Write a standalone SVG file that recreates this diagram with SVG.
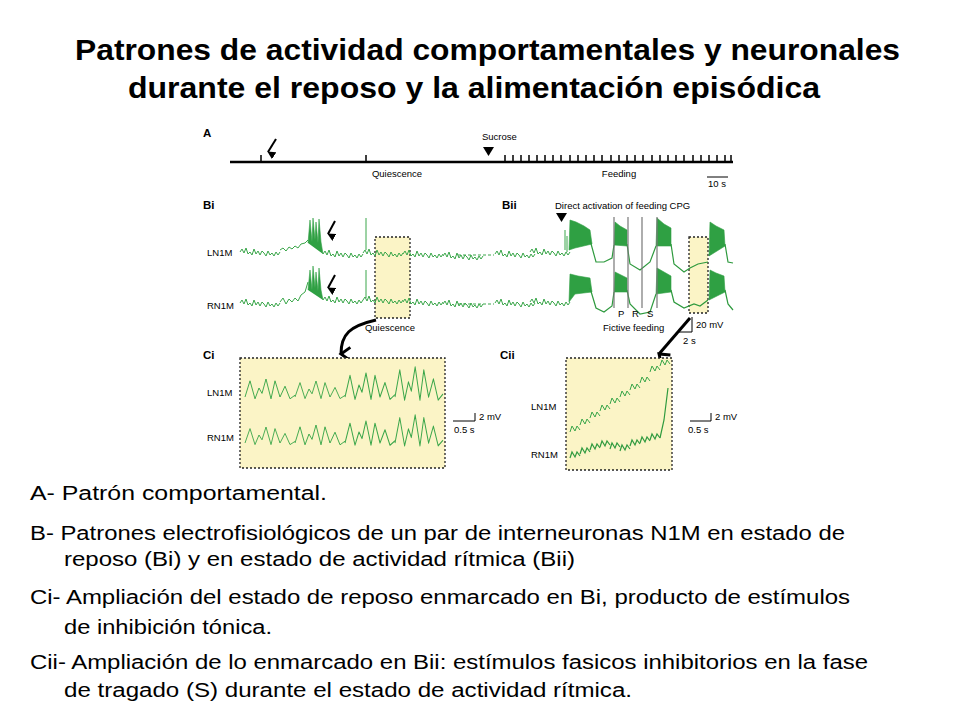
<svg xmlns="http://www.w3.org/2000/svg" xmlns:xlink="http://www.w3.org/1999/xlink" width="960" height="720" viewBox="0 0 960 720">
<style>
.t{font-family:"Liberation Sans",Arial,sans-serif;fill:#000}
.ti{font-size:29px;font-weight:bold}
.bd{font-size:19.5px}
.sm{font-size:9.5px}
.lb{font-size:11.5px;font-weight:bold}
.tr{fill:none;stroke:#3aa64a;stroke-width:1;stroke-linejoin:round}
.trd{fill:none;stroke:#2e9a3e;stroke-width:1.2}
.bu{fill:#2fa043;stroke:#2fa043;stroke-width:0.6}
.box{fill:#fbf4c6;stroke:#222;stroke-width:1.3;stroke-dasharray:2 2}
.k{stroke:#000;fill:none}
</style>
<defs>
<path id="nz" d="M0,0 l2,-3 2,4 2,-5 2,6 2,-2 2,3 2,-6 2,5 2,-3 2,4 2,-4 2,2 2,3 2,-5 2,4 2,-2 2,3 2,-4 2,3 2,-3"/>
<path id="os" d="M0,0 l5,-18 5,20 4,-12 3,6 4,-16 5,22 4,-20 5,18 5,-12 5,14 5,-4"/>
<path id="sz" d="M0,0 l2,-6 3,5 2,-5 3,4"/>
<marker id="ah" viewBox="0 0 10 10" refX="5" refY="9" markerWidth="8" markerHeight="8" orient="auto-start-reverse" markerUnits="userSpaceOnUse"><path d="M0,0 L10,0 L5,10 Z" fill="#000"/></marker>
<marker id="va" viewBox="0 0 12 12" refX="6" refY="10" markerWidth="16" markerHeight="16" orient="auto" markerUnits="userSpaceOnUse"><path d="M1,3 L6,10 L11,3" fill="none" stroke="#000" stroke-width="2.2"/></marker>
</defs>

<g id="title">
<text class="t ti" x="75" y="60" textLength="825" lengthAdjust="spacingAndGlyphs">Patrones de actividad comportamentales y neuronales</text>
<text class="t ti" x="128" y="98" textLength="692" lengthAdjust="spacingAndGlyphs">durante el reposo y la alimentación episódica</text>
</g>

<g id="panelA">
<text class="t lb" x="203" y="137">A</text>
<line class="k" x1="230" y1="162" x2="733" y2="162" stroke-width="2.5"/>
<path class="k" stroke-width="1.5" d="M261,162v-7 M366,162v-7 M505,162v-7 M513,162v-7 M521,162v-7 M529,162v-7 M537,162v-7 M545,162v-7 M553,162v-7 M561,162v-7 M570,162v-7 M578,162v-7 M586,162v-7 M594,162v-7 M602,162v-7 M611,162v-7 M619,162v-7 M627,162v-7 M635,162v-7 M643,162v-7 M652,162v-7 M660,162v-7 M668,162v-7 M676,162v-7 M684,162v-7 M693,162v-7 M701,162v-7 M709,162v-7 M717,162v-7 M725,162v-7 M731,162v-7"/>
<line class="k" x1="276" y1="139" x2="268" y2="152" stroke-width="2" marker-end="url(#ah)"/>
<text class="t sm" x="482" y="140">Sucrose</text>
<path d="M483,147 L494,147 L488.5,156 Z" fill="#000"/>
<text class="t sm" x="397" y="177" text-anchor="middle">Quiescence</text>
<text class="t sm" x="619" y="177" text-anchor="middle">Feeding</text>
<line class="k" x1="707" y1="177" x2="728" y2="177" stroke-width="1"/>
<text class="t sm" x="708" y="187">10 s</text>
</g>

<g id="panelB">
<text class="t lb" x="203" y="209">Bi</text>
<text class="t lb" x="502" y="209">Bii</text>
<text class="t sm" x="555" y="209">Direct activation of feeding CPG</text>
<path d="M556,213 L567,213 L561.5,222 Z" fill="#000"/>
<text class="t sm" x="207" y="256">LN1M</text>
<text class="t sm" x="207" y="309">RN1M</text>
<rect class="box" x="375" y="237" width="35" height="81"/>
<rect class="box" x="689" y="237" width="19" height="76"/>
<g class="tr">
<use xlink:href="#nz" x="240" y="252"/>
<path d="M280,250 l3,-2 3,3 3,-4 3,2 3,-3 3,2 3,-4 4,-1 3,-3"/>
<use xlink:href="#nz" x="323" y="254"/>
<use xlink:href="#nz" x="363" y="253"/>
<path d="M366,250 V218"/>
<use xlink:href="#nz" x="403" y="254"/>
<use xlink:href="#nz" x="443" y="256"/>
<use xlink:href="#nz" x="495" y="254"/>
<use xlink:href="#nz" x="530" y="252"/>
<path d="M565,250 V230 M567,252 V236"/>
</g>
<path class="bu" d="M308,243 L310,220 L312,242 L313,218 L315,240 L316,222 L318,243 L319,219 L321,242 L323,254"/>
<line x1="458" y1="255" x2="494" y2="255" stroke="#3aa64a" stroke-dasharray="3 2"/>
<path class="bu" d="M569,250 L570,220 L576,222 L584,226 L590,230 L592,244 L575,248 Z"/>
<path class="trd" d="M590,240 L596,262 L604,262 L612,258 L614,245"/>
<path class="bu" d="M614,245 L615,222 L620,226 L627,230 L627,246 Z"/>
<path class="trd" d="M627,244 L630,264 L640,270 L650,262 L656,246"/>
<path class="bu" d="M656,246 L657,218 L664,224 L671,228 L671,246 Z"/>
<path class="trd" d="M671,244 L674,264 L684,272 L690,268 L698,264 L708,262"/>
<path class="bu" d="M709,256 L710,222 L716,226 L724,230 L725,246 Z"/>
<path class="trd" d="M725,244 L728,262 L733,263"/>
<line x1="335" y1="221" x2="328" y2="234" stroke="#000" stroke-width="2" marker-end="url(#ah)"/>
<g class="tr">
<use xlink:href="#nz" x="240" y="303"/>
<path d="M280,302 l3,-4 3,6 3,-5 3,3 3,-4 3,3 3,-6 4,-3 3,-10"/>
<use xlink:href="#nz" x="323" y="300"/>
<use xlink:href="#nz" x="363" y="300"/>
<path d="M366,298 V270"/>
<use xlink:href="#nz" x="403" y="302"/>
<use xlink:href="#nz" x="443" y="304"/>
<use xlink:href="#nz" x="495" y="303"/>
<use xlink:href="#nz" x="530" y="302"/>
</g>
<path class="bu" d="M308,290 L310,270 L312,290 L313,266 L315,288 L316,272 L318,291 L319,268 L321,290 L323,300"/>
<line x1="458" y1="304" x2="494" y2="304" stroke="#3aa64a" stroke-dasharray="3 2"/>
<path class="bu" d="M569,302 L570,274 L578,276 L590,278 L592,292 L575,294 Z"/>
<path class="trd" d="M590,288 L596,308 L604,312 L612,306 L614,292"/>
<path class="bu" d="M614,292 L615,272 L621,275 L627,278 L627,292 Z"/>
<path class="trd" d="M627,290 L630,304 L640,314 L650,312 L656,294"/>
<path class="bu" d="M656,294 L657,268 L664,272 L671,276 L671,292 Z"/>
<path class="trd" d="M671,290 L674,302 L684,308 L694,304 L700,306 L708,300"/>
<path class="bu" d="M709,300 L710,270 L716,273 L724,276 L725,292 Z"/>
<path class="trd" d="M725,290 L728,304 L733,310"/>
<line x1="335" y1="275" x2="328" y2="288" stroke="#000" stroke-width="2" marker-end="url(#ah)"/>
<g stroke="#777" stroke-width="1.2">
<line x1="614" y1="217" x2="614" y2="308"/>
<line x1="628" y1="217" x2="628" y2="308"/>
<line x1="642" y1="217" x2="642" y2="308"/>
<line x1="657" y1="217" x2="657" y2="308"/>
</g>
<text class="t sm" x="618" y="317">P</text>
<text class="t sm" x="632" y="317">R</text>
<text class="t sm" x="647" y="317">S</text>
<text class="t sm" x="603" y="331">Fictive feeding</text>
<path class="k" d="M692,317 V332 H678" stroke-width="1"/>
<text class="t sm" x="696" y="328">20 mV</text>
<text class="t sm" x="683" y="344">2 s</text>
<text class="t sm" x="390" y="331" text-anchor="middle">Quiescence</text>
</g>

<g id="connectors">
<path class="k" d="M376,320 C350,326 341,334 341,354" stroke-width="3" marker-end="url(#va)"/>
<path class="k" d="M690,318 L659,354" stroke-width="3" marker-end="url(#va)"/>
</g>

<g id="panelC">
<text class="t lb" x="203" y="359">Ci</text>
<text class="t lb" x="500" y="359">Cii</text>
<rect class="box" x="240" y="358" width="205" height="110"/>
<rect class="box" x="566" y="358" width="106" height="112"/>
<text class="t sm" x="207" y="396">LN1M</text>
<text class="t sm" x="207" y="441">RN1M</text>
<g class="tr">
<use xlink:href="#os" transform="translate(245,397) scale(1,0.9)"/>
<use xlink:href="#os" transform="translate(295,397) scale(1,0.8)"/>
<use xlink:href="#os" transform="translate(345,397) scale(1,1.2)"/>
<use xlink:href="#os" transform="translate(395,397) scale(0.96,1.5)"/>
<use xlink:href="#os" transform="translate(245,443) scale(1,0.8)"/>
<use xlink:href="#os" transform="translate(295,443) scale(1,0.9)"/>
<use xlink:href="#os" transform="translate(345,443) scale(1,1.1)"/>
<use xlink:href="#os" transform="translate(395,443) scale(0.96,1.4)"/>
</g>
<path class="k" d="M453,421 H475 V413" stroke-width="1"/>
<text class="t sm" x="479" y="420">2 mV</text>
<text class="t sm" x="454" y="433">0.5 s</text>
<text class="t sm" x="531" y="410">LN1M</text>
<text class="t sm" x="531" y="458">RN1M</text>
<g class="tr">
<use xlink:href="#sz" x="570" y="432"/><use xlink:href="#sz" x="580" y="425"/><use xlink:href="#sz" x="590" y="418"/><use xlink:href="#sz" x="600" y="411"/><use xlink:href="#sz" x="610" y="404"/><use xlink:href="#sz" x="620" y="397"/><use xlink:href="#sz" x="630" y="390"/><use xlink:href="#sz" x="640" y="383"/><use xlink:href="#sz" x="650" y="372"/><use xlink:href="#sz" x="660" y="366"/>
</g>
<g class="trd">
<use xlink:href="#sz" x="570" y="458"/><use xlink:href="#sz" x="580" y="454"/><use xlink:href="#sz" x="590" y="450"/><use xlink:href="#sz" x="600" y="447"/><use xlink:href="#sz" x="610" y="449"/><use xlink:href="#sz" x="620" y="451"/><use xlink:href="#sz" x="630" y="446"/><use xlink:href="#sz" x="640" y="443"/><use xlink:href="#sz" x="650" y="440"/>
<path d="M660,438 L664,420 L668,388"/>
</g>
<path class="k" d="M690,421 H711 V413" stroke-width="1"/>
<text class="t sm" x="715" y="420">2 mV</text>
<text class="t sm" x="688" y="433">0.5 s</text>
</g>

<g id="caption">
<text class="t bd" x="30" y="500" textLength="297" lengthAdjust="spacingAndGlyphs">A- Patrón comportamental.</text>
<text class="t bd" x="30" y="540" textLength="815" lengthAdjust="spacingAndGlyphs">B- Patrones electrofisiológicos de un par de interneuronas N1M en estado de</text>
<text class="t bd" x="64" y="566" textLength="511" lengthAdjust="spacingAndGlyphs">reposo (Bi) y en estado de actividad rítmica (Bii)</text>
<text class="t bd" x="30" y="604" textLength="820" lengthAdjust="spacingAndGlyphs">Ci- Ampliación del estado de reposo enmarcado en Bi, producto de estímulos</text>
<text class="t bd" x="64" y="634" textLength="208" lengthAdjust="spacingAndGlyphs">de inhibición tónica.</text>
<text class="t bd" x="30" y="669" textLength="838" lengthAdjust="spacingAndGlyphs">Cii- Ampliación de lo enmarcado en Bii: estímulos fasicos inhibitorios en la fase</text>
<text class="t bd" x="64" y="697" textLength="568" lengthAdjust="spacingAndGlyphs">de tragado (S) durante el estado de actividad rítmica.</text>
</g>
</svg>
